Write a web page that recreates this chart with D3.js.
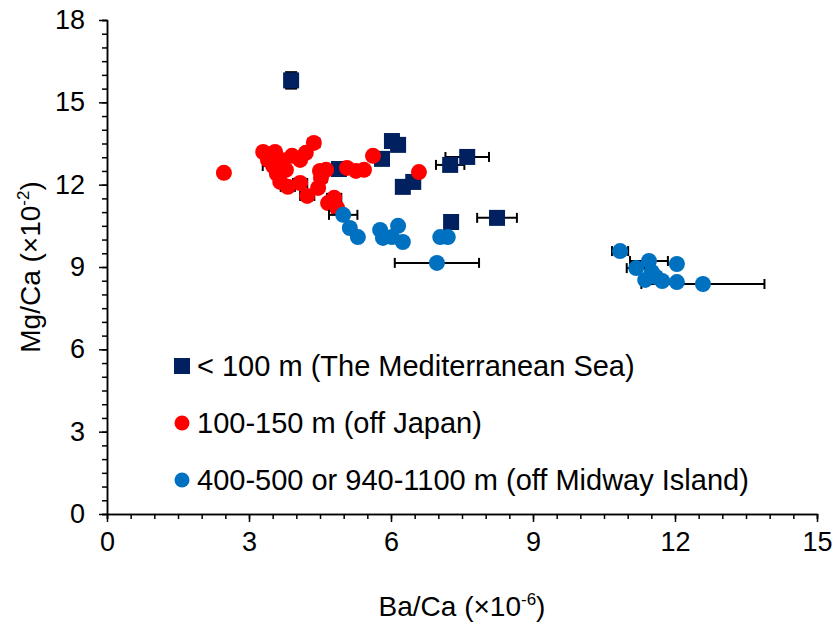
<!DOCTYPE html>
<html>
<head>
<meta charset="utf-8">
<script src="https://cdn.jsdelivr.net/npm/d3@7"></script>
<style>
  body { margin: 0; background: #fff; }
  svg { font-family: Arial, "Liberation Sans", sans-serif; }
  .axis path, .axis line { stroke: #000; stroke-width: 1.5; }
  .axis text { font-size: 27px; fill: #000; }
</style>
</head>
<body>
<div id="chart"></div>
<script>
// series: [Ba/Ca, Mg/Ca, xErr, yErr]
var medSea = [
  [3.89, 15.80, 0, 0.3],
  [4.90, 12.57, 0, 0],
  [5.81, 12.94, 0, 0],
  [6.02, 13.59, 0, 0],
  [6.15, 13.45, 0, 0],
  [6.25, 11.92, 0, 0],
  [6.47, 12.10, 0, 0],
  [7.25, 12.72, 0.3, 0],
  [7.61, 13.01, 0.46, 0],
  [7.27, 10.64, 0, 0],
  [8.24, 10.79, 0.42, 0]
]
var japan = [
  [2.47, 12.43, 0, 0],
  [3.30, 13.19, 0, 0],
  [3.55, 13.19, 0, 0],
  [3.40, 12.90, 0, 0],
  [3.51, 12.68, 0.22, 0],
  [3.68, 12.90, 0, 0],
  [3.59, 12.39, 0, 0],
  [3.66, 12.10, 0, 0],
  [3.82, 11.92, 0.15, 0],
  [3.91, 13.05, 0, 0],
  [4.08, 12.90, 0, 0],
  [4.20, 13.16, 0, 0],
  [4.37, 13.52, 0.12, 0],
  [4.08, 12.06, 0.15, 0],
  [4.23, 11.59, 0.15, 0],
  [4.46, 11.88, 0, 0],
  [4.50, 12.50, 0, 0],
  [4.63, 12.54, 0, 0],
  [4.52, 12.24, 0.12, 0],
  [5.07, 12.61, 0, 0],
  [5.26, 12.50, 0, 0],
  [5.43, 12.54, 0, 0],
  [5.62, 13.05, 0, 0],
  [4.67, 11.33, 0, 0],
  [4.80, 11.52, 0.15, 0],
  [4.86, 11.15, 0.1, 0],
  [6.59, 12.46, 0, 0],
  [3.78, 12.54, 0, 0]
]
var midway = [
  [4.99, 10.90, 0.3, 0],
  [5.13, 10.42, 0, 0],
  [5.30, 10.09, 0, 0],
  [5.77, 10.35, 0, 0],
  [5.83, 10.06, 0, 0],
  [6.15, 10.50, 0, 0],
  [6.25, 9.91, 0, 0],
  [6.02, 10.09, 0, 0],
  [7.04, 10.09, 0, 0],
  [7.20, 10.09, 0, 0],
  [6.97, 9.15, 0.89, 0],
  [10.84, 9.58, 0.17, 0],
  [11.18, 8.96, 0.2, 0],
  [11.45, 9.22, 0.4, 0],
  [11.51, 8.82, 0, 0],
  [11.37, 8.53, 0.1, 0],
  [11.60, 8.64, 0, 0],
  [11.73, 8.49, 0, 0],
  [12.04, 9.11, 0, 0],
  [12.04, 8.45, 0, 0],
  [12.59, 8.38, 1.3, 0]
]
var legendLabels = [
  '< 100 m (The Mediterranean Sea)',
  '100-150 m (off Japan)',
  '400-500 or 940-1100 m (off Midway Island)'
]
var xMajor = [0, 3, 6, 9, 12, 15]
var yMajor = [0, 3, 6, 9, 12, 15, 18]

var NAVY = '#002060', RED = '#FF0000', BLUE = '#0070C0'

var width = 837, height = 637
var svg = d3.select('#chart').append('svg')
  .attr('width', width).attr('height', height)

var x = d3.scaleLinear().domain([0, 15]).range([107, 817])
var y = d3.scaleLinear().domain([0, 18]).range([514, 20])

// minor ticks
svg.append('g').attr('class', 'axis')
  .attr('transform', 'translate(0,' + y(0) + ')')
  .call(d3.axisBottom(x).tickValues(d3.range(0, 15.01, 0.5)).tickSize(5).tickFormat(''))
svg.append('g').attr('class', 'axis')
  .attr('transform', 'translate(' + x(0) + ',0)')
  .call(d3.axisLeft(y).tickValues(d3.range(0, 18.01, 0.5)).tickSize(5).tickFormat(''))

// major ticks
svg.append('g').attr('class', 'axis')
  .attr('transform', 'translate(0,' + y(0) + ')')
  .call(d3.axisBottom(x).tickValues(xMajor).tickSize(8).tickSizeOuter(0).tickPadding(10))
svg.append('g').attr('class', 'axis')
  .attr('transform', 'translate(' + x(0) + ',0)')
  .call(d3.axisLeft(y).tickValues(yMajor).tickSize(8).tickSizeOuter(0).tickPadding(14))

function errorBars(data) {
  var g = svg.append('g').attr('stroke', '#000').attr('stroke-width', 2)
  data.filter(d => d[2] > 0).forEach(d => {
    var x0 = x(d[0] - d[2]), x1 = x(d[0] + d[2]), yy = y(d[1])
    g.append('line').attr('x1', x0).attr('x2', x1).attr('y1', yy).attr('y2', yy)
    g.append('line').attr('x1', x0).attr('x2', x0).attr('y1', yy - 5).attr('y2', yy + 5)
    g.append('line').attr('x1', x1).attr('x2', x1).attr('y1', yy - 5).attr('y2', yy + 5)
  })
  data.filter(d => d[3] > 0).forEach(d => {
    var y0 = y(d[1] - d[3]), y1 = y(d[1] + d[3]), xx = x(d[0])
    g.append('line').attr('x1', xx).attr('x2', xx).attr('y1', y0).attr('y2', y1)
    g.append('line').attr('x1', xx - 6).attr('x2', xx + 6).attr('y1', y0).attr('y2', y0)
    g.append('line').attr('x1', xx - 6).attr('x2', xx + 6).attr('y1', y1).attr('y2', y1)
  })
}

errorBars(medSea)
svg.append('g').selectAll('rect').data(medSea).enter().append('rect')
  .attr('x', d => x(d[0]) - 8).attr('y', d => y(d[1]) - 8)
  .attr('width', 16).attr('height', 16).attr('fill', NAVY)

errorBars(japan)
svg.append('g').selectAll('circle').data(japan).enter().append('circle')
  .attr('cx', d => x(d[0])).attr('cy', d => y(d[1])).attr('r', 8).attr('fill', RED)

errorBars(midway)
svg.append('g').selectAll('circle').data(midway).enter().append('circle')
  .attr('cx', d => x(d[0])).attr('cy', d => y(d[1])).attr('r', 8).attr('fill', BLUE)

// legend
var leg = svg.append('g').attr('transform', 'translate(182,366)')
leg.append('rect').attr('x', -8).attr('y', -8).attr('width', 16).attr('height', 16).attr('fill', NAVY)
leg.append('circle').attr('cx', 0).attr('cy', 57).attr('r', 7.5).attr('fill', RED)
leg.append('circle').attr('cx', 0).attr('cy', 114).attr('r', 7.5).attr('fill', BLUE)
leg.selectAll('text').data(legendLabels).enter().append('text')
  .attr('x', 15).attr('y', (d, i) => i * 57 + 10)
  .attr('font-size', 29).text(d => d)

// axis titles
var xt = svg.append('text').attr('x', 462).attr('y', 616)
  .attr('text-anchor', 'middle').attr('font-size', 28)
xt.append('tspan').text('Ba/Ca (×10')
xt.append('tspan').attr('font-size', 17).attr('dy', -11).text('-6')
xt.append('tspan').attr('dy', 11).text(')')

var yt = svg.append('text')
  .attr('transform', 'translate(40,267) rotate(-90)')
  .attr('text-anchor', 'middle').attr('font-size', 28)
yt.append('tspan').text('Mg/Ca (×10')
yt.append('tspan').attr('font-size', 17).attr('dy', -11).text('-2')
yt.append('tspan').attr('dy', 11).text(')')
</script>
</body>
</html>
